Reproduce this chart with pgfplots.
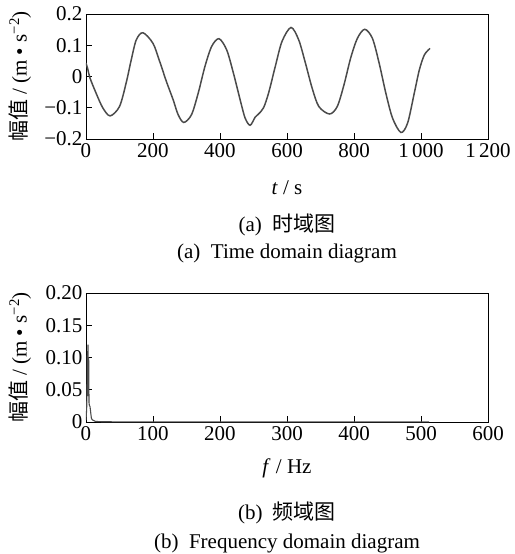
\documentclass[border=0pt]{standalone}
\usepackage{pgfplots}
\pgfplotsset{compat=1.18}
\usepackage{fontspec}
\setmainfont{Liberation Serif}
\newfontfamily\cjk{Noto Sans CJK SC}
\newcommand\fs{\fontsize{21}{25}\selectfont}
\definecolor{curve}{RGB}{75,75,75}
\begin{document}
\begin{tikzpicture}[x=1pt,y=1pt]
\useasboundingbox (-86pt,-415pt) rectangle (428pt,139pt);
\pgfplotsset{
  myax/.style={
    scale only axis, width=402pt,
    axis line style={black, line width=0.9pt},
    tick align=inside, xtick pos=bottom, ytick pos=left,
    major tick length=6pt,
    every tick/.style={black, line width=0.9pt},
    tick label style={font=\fs},
    /pgf/number format/assume math mode=true,
    label style={font=\fs},
    ylabel style={at={(axis description cs:-0.164,0.5)}, anchor=center, rotate=0},
    xticklabel style={yshift=-1pt},
  }
}
\begin{axis}[myax, at={(0pt,0pt)}, anchor=south west, height=125pt,
  xmin=0, xmax=1200, ymin=-0.2, ymax=0.2,
  xtick={0,200,400,600,800,1000,1200},
  xticklabels={0,200,400,600,800,1\,000,1\,200},
  ytick={-0.2,-0.1,0,0.1,0.2},
  yticklabels={−0.2,−0.1,0,0.1,0.2},
  xlabel={\textit{t} / s},
  xlabel style={at={(axis description cs:0.5,-0.392)}, anchor=center},
  ylabel={{\cjk 幅值} / (m • s\textsuperscript{−2})},
]
\addplot[curve, line width=1.5pt, smooth, tension=0.5] coordinates {
(0,0.043) (5,0.025) (12,-0.005) (30,-0.053) (50,-0.100) (72,-0.126)
(100,-0.096) (120,-0.020) (135,0.053) (150,0.117) (170,0.140)
(200,0.106) (220,0.048) (240,-0.016) (260,-0.074) (275,-0.122) (292,-0.147)
(315,-0.122) (335,-0.053) (355,0.032) (375,0.096) (397,0.121)
(420,0.085) (440,0.011) (460,-0.074) (475,-0.133) (490,-0.156)
(505,-0.130) (515,-0.120) (530,-0.100) (545,-0.053)
(565,0.032) (585,0.112) (612,0.157)
(635,0.117) (655,0.043) (675,-0.037) (695,-0.096) (727,-0.120)
(750,-0.096) (770,-0.027) (790,0.059) (810,0.122) (832,0.151)
(855,0.122) (875,0.043) (895,-0.053) (915,-0.133) (940,-0.179)
(960,-0.149) (980,-0.053) (995,0.021) (1010,0.069) (1027,0.090)
};
\end{axis}
\begin{axis}[myax, at={(0pt,-283pt)}, anchor=south west, height=129pt,
  xmin=0, xmax=600, ymin=0, ymax=0.2,
  xtick={0,100,200,300,400,500,600},
  ytick={0,0.05,0.1,0.15,0.2},
  yticklabels={0,0.05,0.10,0.15,0.20},
  xlabel={\textit{f} / Hz},
  xlabel style={at={(axis description cs:0.5,-0.357)}, anchor=center},
  ylabel={{\cjk 幅值} / (m • s\textsuperscript{−2})},
]
\addplot[curve, line width=1.1pt] coordinates {
(0,0.003) (1,0.02) (1.5,0.05) (2,0.11) (2.5,0.04) (3,0.12) (3.5,0.06)
(4,0.10) (4.5,0.03) (5,0.026) (6,0.024) (7,0.015) (8,0.006) (9,0.004)
(10,0.003) (12,0.002) (14,0.001) (20,0.0005) (40,0.0003) (100,0.0002) (512,0.0001)
};
\end{axis}
\node[font=\fs] at (201pt,-86pt) {(a)\enspace{\cjk 时域图}};
\node[font=\fs] at (201pt,-114pt) {(a)\enspace Time domain diagram};
\node[font=\fs] at (201pt,-374pt) {(b)\enspace{\cjk 频域图}};
\node[font=\fs] at (201pt,-404pt) {(b)\enspace Frequency domain diagram};
\end{tikzpicture}
\end{document}
